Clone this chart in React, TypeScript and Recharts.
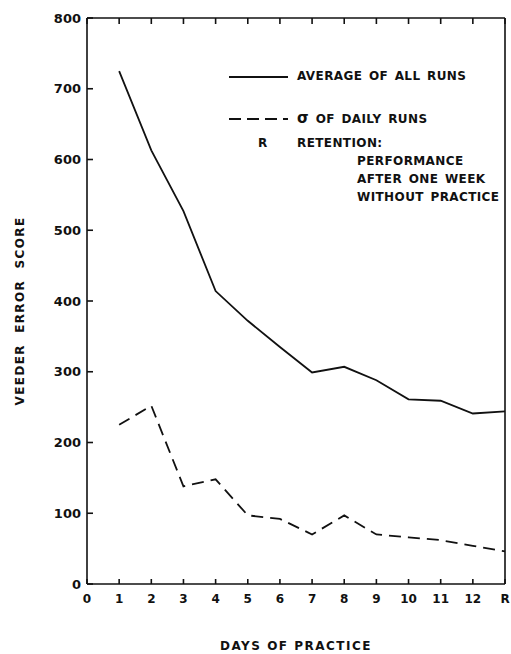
import React from "react";
import {
  LineChart,
  Line,
  XAxis,
  YAxis,
  Legend,
} from "recharts";

const dayLabels = ["1", "2", "3", "4", "5", "6", "7", "8", "9", "10", "11", "12", "R"];
const averageRuns = [725, 613, 527, 414, 372, 335, 299, 307, 288, 261, 259, 241, 244];
const sigmaRuns = [225, 252, 138, 148, 97, 92, 70, 97, 70, 66, 62, 54, 46];
const xTicks = [0, 1, 2, 3, 4, 5, 6, 7, 8, 9, 10, 11, 12, 13];
const yTicks = [0, 100, 200, 300, 400, 500, 600, 700, 800];

const data = dayLabels.map((day, i) => ({
  x: i + 1,
  day,
  avg: averageRuns[i],
  sigma: sigmaRuns[i],
}));

const FONT = "'DejaVu Sans', sans-serif";
const INK = "#111";

function xLabel(v: number) {
  return v === 0 ? "0" : dayLabels[v - 1];
}

function LegendBox() {
  const txt: React.CSSProperties = {
    position: "absolute",
    fontFamily: FONT,
    fontWeight: 700,
    fontSize: 12,
    letterSpacing: 0.4,
    wordSpacing: 2,
    color: INK,
    whiteSpace: "nowrap",
    lineHeight: "13px",
  };
  return (
    <div style={{ position: "relative", width: 290, height: 150 }}>
      <svg width={70} height={60} style={{ position: "absolute", left: 0, top: 0 }}>
        <line x1={4} x2={63} y1={11} y2={11} stroke={INK} strokeWidth={1.8} />
        <line x1={4} x2={63} y1={53} y2={53} stroke={INK} strokeWidth={1.8} strokeDasharray="12 6" />
      </svg>
      <div style={{ ...txt, left: 72, top: 4 }}>AVERAGE OF ALL RUNS</div>
      <div style={{ ...txt, left: 72, top: 46 }}>
        <span style={{ fontSize: 15 }}>σ</span> OF DAILY RUNS
      </div>
      <div style={{ ...txt, left: 33, top: 71 }}>R</div>
      <div style={{ ...txt, left: 72, top: 71 }}>RETENTION:</div>
      <div style={{ ...txt, left: 132, top: 89 }}>PERFORMANCE</div>
      <div style={{ ...txt, left: 132, top: 107 }}>AFTER ONE WEEK</div>
      <div style={{ ...txt, left: 132, top: 125 }}>WITHOUT PRACTICE</div>
    </div>
  );
}

export default function App() {
  return (
    <div style={{ position: "absolute", left: 0, top: 0, background: "#fff" }}>
      <LineChart
        width={511}
        height={654}
        data={data}
        margin={{ top: 17, right: 5, left: 0, bottom: 0 }}
      >
        <XAxis
          xAxisId="bottom"
          dataKey="x"
          type="number"
          domain={[0, 13]}
          ticks={xTicks}
          interval={0}
          tickFormatter={xLabel}
          height={70}
          tickSize={-5}
          tickMargin={15}
          stroke={INK}
          strokeWidth={1.6}
          tick={{ fill: INK, fontFamily: FONT, fontWeight: 700, fontSize: 12 }}
          label={{
            value: "DAYS  OF  PRACTICE",
            position: "insideBottom",
            offset: 4,
            fill: INK,
            fontFamily: FONT,
            fontWeight: 700,
            fontSize: 12,
            letterSpacing: 1.5,
            style: { whiteSpace: "pre" },
          }}
        />
        <XAxis
          xAxisId="top"
          dataKey="x"
          type="number"
          orientation="top"
          domain={[0, 13]}
          ticks={xTicks}
          interval={0}
          tickFormatter={() => ""}
          height={1}
          tickSize={-6}
          tickMargin={0}
          stroke={INK}
          strokeWidth={1.6}
        />
        <YAxis
          yAxisId="left"
          domain={[0, 800]}
          ticks={yTicks}
          interval={0}
          width={87}
          tickSize={-6}
          tickMargin={12}
          stroke={INK}
          strokeWidth={1.6}
          tick={{ fill: INK, fontFamily: FONT, fontWeight: 700, fontSize: 13 }}
          label={(props: any) => {
            const vb = props.viewBox || { x: 0, y: 18, width: 87, height: 566 };
            const cx = 20;
            const cy = vb.y + vb.height / 2 + 10;
            return (
              <text
                x={cx}
                y={cy}
                transform={`rotate(-90, ${cx}, ${cy})`}
                textAnchor="middle"
                dominantBaseline="central"
                fill={INK}
                fontFamily={FONT}
                fontWeight={700}
                fontSize={12}
                letterSpacing={1.4}
                style={{ whiteSpace: "pre" }}
              >
                {"VEEDER  ERROR  SCORE"}
              </text>
            );
          }}
        />
        <YAxis
          yAxisId="right"
          orientation="right"
          domain={[0, 800]}
          ticks={yTicks}
          interval={0}
          width={1}
          tickSize={-6}
          tickMargin={0}
          tickFormatter={() => ""}
          stroke={INK}
          strokeWidth={1.6}
        />
        <Legend
          layout="horizontal"
          verticalAlign="middle"
          align="center"
          content={() => <LegendBox />}
          wrapperStyle={{ left: 225, top: 66, width: 290 }}
        />
        <Line
          xAxisId="bottom"
          yAxisId="left"
          dataKey="avg"
          type="linear"
          stroke={INK}
          strokeWidth={1.8}
          dot={false}
          isAnimationActive={false}
        />
        <Line
          xAxisId="bottom"
          yAxisId="left"
          dataKey="sigma"
          type="linear"
          stroke={INK}
          strokeWidth={1.8}
          strokeDasharray="12 7"
          dot={false}
          isAnimationActive={false}
        />
      </LineChart>
    </div>
  );
}
